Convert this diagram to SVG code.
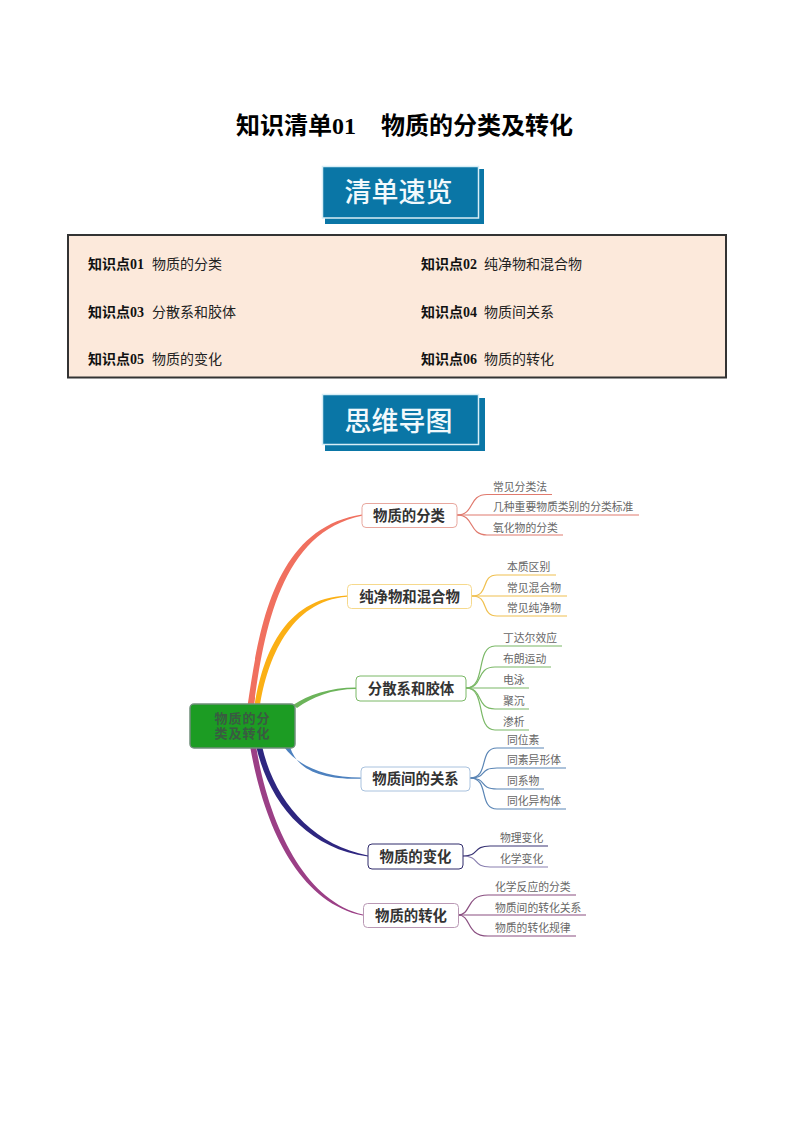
<svg xmlns="http://www.w3.org/2000/svg" width="794" height="1123" viewBox="0 0 794 1123">
<style>
text{font-family:"Liberation Serif","Noto Sans CJK SC",sans-serif}
.title{font-size:24px;font-weight:700;fill:#000}
.bn{font-family:"Noto Sans CJK SC",sans-serif;font-size:27px;font-weight:500;fill:#f2f9fc;text-anchor:middle}
.k{font-size:14px;font-weight:700;fill:#111}
.v{font-family:"Noto Sans CJK SC",sans-serif;font-size:14px;fill:#222}
.n{fill:#fff;stroke-width:1}
.nt{font-family:"Noto Sans CJK SC",sans-serif;font-size:14.4px;font-weight:700;fill:#333;text-anchor:middle;dominant-baseline:central}
.rt{font-family:"Liberation Sans","Noto Sans CJK SC",sans-serif;font-size:13px;letter-spacing:1px;font-weight:700;fill:#3a5a42;text-anchor:middle}
.c{font-family:"Noto Sans CJK SC",sans-serif;font-size:10.8px;fill:#666;dominant-baseline:central}
.l{fill:none;stroke-width:1.2}
</style>
<g id="page-head">
<text class="title" x="236" y="134">知识清单01</text>
<text class="title" x="381" y="134">物质的分类及转化</text>
</g>
<g id="banner-1">
<rect x="325" y="169" width="159" height="55" fill="#0a76a6"/>
<rect x="322.500" y="166.500" width="156" height="51.500" fill="#0a76a6" stroke="#d8eef6" stroke-width="1.500"/>
<text class="bn" x="398.500" y="202">清单速览</text>
</g>
<g id="contents">
<rect x="68" y="235" width="658" height="142.500" fill="#fce9db" stroke="#333" stroke-width="2"/>
<text class="k" x="88" y="269">知识点01</text><text class="v" x="152" y="269">物质的分类</text>
<text class="k" x="421" y="269">知识点02</text><text class="v" x="484" y="269">纯净物和混合物</text>
<text class="k" x="88" y="317">知识点03</text><text class="v" x="152" y="317">分散系和胶体</text>
<text class="k" x="421" y="317">知识点04</text><text class="v" x="484" y="317">物质间关系</text>
<text class="k" x="88" y="364">知识点05</text><text class="v" x="152" y="364">物质的变化</text>
<text class="k" x="421" y="364">知识点06</text><text class="v" x="484" y="364">物质的转化</text>
</g>
<g id="banner-2">
<rect x="325" y="398" width="160" height="53" fill="#0a76a6"/>
<rect x="322.500" y="394.500" width="156" height="50" fill="#0a76a6" stroke="#d8eef6" stroke-width="1.500"/>
<text class="bn" x="398.500" y="431">思维导图</text>
</g>
<g id="connectors">
<path fill="#f0705f" d="M247.500 706C259 628 274 528 362 514.600V515.800C281 532 264 630 254 706Z"/>
<path fill="#fbb015" d="M254.500 706C262 658 283 598 347 595.500V596.700C290 601 267 660 260 706Z"/>
<path fill="#6cb45a" d="M293 705C308 695 330 687.600 356 687.500V689C332 689 312 697 297 708Z"/>
<path fill="#4d81bf" d="M284 747C298 766 325 777.700 361 777.600V778.800C325 779.500 298 772 290 747Z"/>
<path fill="#2e2680" d="M256 746C269 802 306 848 368 856.600V855.400C312 845 274 800 262 746Z"/>
<path fill="#9b3f86" d="M250 746C264 826 298 902 363 915.600V914.600C305 901 269 826 256 746Z"/>
<g stroke="#e07a6e" class="l">
<path d="M457 515C475 515 468 494.500 487 494.500H552"/><path d="M457 515H639"/><path d="M457 515C475 515 468 535 487 535H563"/>
</g>
<g stroke="#f0c050" class="l">
<path d="M472 596C490 596 480 575 497 575H556"/><path d="M472 596H567"/><path d="M472 596C490 596 480 616 497 616H567"/>
</g>
<g stroke="#7ab866" class="l">
<path d="M466 688C487 688 475 646 495 646H562"/><path d="M466 688C484 688 475 667 495 667H551"/><path d="M466 688H529"/><path d="M466 688C484 688 475 709 495 709H529"/><path d="M466 688C487 688 475 730 495 730H529"/>
</g>
<g stroke="#5a85b5" class="l">
<path d="M470 778C490 778 478 748 497 748H544"/><path d="M470 778C488 778 478 768 497 768H566"/><path d="M470 778C488 778 478 789 497 789H544"/><path d="M470 778C490 778 478 809 497 809H566"/>
</g>
<path class="l" stroke="#3a3575" d="M463 856C480 856 472 846 490 846H548"/>
<path class="l" stroke="#8a80b0" d="M463 856C480 856 472 867 490 867H548"/>
<g stroke="#8a4f80" class="l">
<path d="M458 915C472 915 465 895 488 895H576"/><path d="M458 915H586"/><path d="M458 915C472 915 465 936 488 936H576"/>
</g>
</g>
<g id="root">
<rect x="190" y="704" width="105" height="44" rx="4" fill="#1c9c23" stroke="#6f8f7a" stroke-width="1.500"/>
<text class="rt" x="242.500" y="723">物质的分</text>
<text class="rt" x="242.500" y="738">类及转化</text>
</g>
<g id="node-1"><rect class="n" x="362" y="503.500" width="95" height="24" rx="4" stroke="#e8a79e"/><text class="nt" x="409" y="514.500">物质的分类</text></g>
<g id="node-2"><rect class="n" x="347.500" y="584.500" width="124" height="24" rx="4" stroke="#f6d98c"/><text class="nt" x="409.500" y="595">纯净物和混合物</text></g>
<g id="node-3"><rect class="n" x="356" y="676" width="110" height="25" rx="4" stroke="#7ab866"/><text class="nt" x="411" y="687">分散系和胶体</text></g>
<g id="node-4"><rect class="n" x="361" y="767" width="109" height="24" rx="4" stroke="#a9c2de"/><text class="nt" x="415.500" y="777.500">物质间的关系</text></g>
<g id="node-5"><rect class="n" x="368" y="844" width="95" height="25" rx="4" stroke="#2f2a6b"/><text class="nt" x="415.500" y="855.500">物质的变化</text></g>
<g id="node-6"><rect class="n" x="363.500" y="903.500" width="95" height="24" rx="4" stroke="#b998b4"/><text class="nt" x="411" y="914.500">物质的转化</text></g>
<g id="leaves" transform="translate(0,-0.300)">
<text class="c" x="493" y="486">常见分类法</text>
<text class="c" x="493" y="506">几种重要物质类别的分类标准</text>
<text class="c" x="493" y="527">氧化物的分类</text>
<text class="c" x="507" y="566.500">本质区别</text>
<text class="c" x="507" y="587">常见混合物</text>
<text class="c" x="507" y="607.500">常见纯净物</text>
<text class="c" x="503" y="637">丁达尔效应</text>
<text class="c" x="503" y="658">布朗运动</text>
<text class="c" x="503" y="679">电泳</text>
<text class="c" x="503" y="700">聚沉</text>
<text class="c" x="503" y="721">渗析</text>
<text class="c" x="507" y="739">同位素</text>
<text class="c" x="507" y="759">同素异形体</text>
<text class="c" x="507" y="780">同系物</text>
<text class="c" x="507" y="800">同化异构体</text>
<text class="c" x="500" y="837">物理变化</text>
<text class="c" x="500" y="858">化学变化</text>
<text class="c" x="495" y="886.500">化学反应的分类</text>
<text class="c" x="495" y="907">物质间的转化关系</text>
<text class="c" x="495" y="927.500">物质的转化规律</text>
</g>
</svg>
